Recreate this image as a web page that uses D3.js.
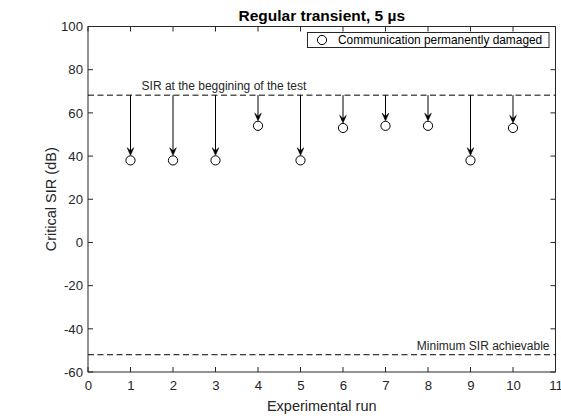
<!DOCTYPE html>
<html><head><meta charset="utf-8">
<script src="https://cdn.jsdelivr.net/npm/d3@7"></script>
<style>body{margin:0;background:#fff}svg{display:block;font-family:"Liberation Sans",Arial,Helvetica,sans-serif}</style>
</head><body>
<svg id="c" width="561" height="416"></svg>
<script>
const runs = [1,2,3,4,5,6,7,8,9,10];
const criticalSIR = [38,38,38,54,38,53,54,54,38,53];
const startSIR = 68.2;
const minSIR = -52;
const xTicks = [0,1,2,3,4,5,6,7,8,9,10,11];
const yTicks = [-60,-40,-20,0,20,40,60,80,100];

const svg = d3.select("#c");
const L=88, R=555.5, T=26.5, B=372;
const x = d3.scaleLinear().domain([0,11]).range([L,R]);
const y = d3.scaleLinear().domain([-60,100]).range([B,T]);
const ink="#262626";
const fmt = d => String(d);

const g = svg.append("g");
g.append("rect").attr("x",L).attr("y",T).attr("width",R-L).attr("height",B-T)
 .attr("fill","none").attr("stroke",ink).attr("stroke-width",1);

const tl=5;
const xa = d3.axisBottom(x).tickValues(xTicks).tickFormat(fmt).tickSize(0).tickPadding(9);
const ya = d3.axisLeft(y).tickValues(yTicks).tickFormat(fmt).tickSize(0).tickPadding(5);
const gx = svg.append("g").attr("transform",`translate(0,${B})`).call(xa);
const gy = svg.append("g").attr("transform",`translate(${L},0)`).call(ya);
[gx,gy].forEach(a=>{a.select(".domain").remove();a.selectAll("text").attr("font-size",13.2).attr("fill",ink).attr("font-family","Liberation Sans, Arial, sans-serif");});
xTicks.forEach(v=>{
  g.append("line").attr("x1",x(v)).attr("x2",x(v)).attr("y1",B).attr("y2",B-tl).attr("stroke",ink);
  g.append("line").attr("x1",x(v)).attr("x2",x(v)).attr("y1",T).attr("y2",T+tl).attr("stroke",ink);
});
yTicks.forEach(v=>{
  g.append("line").attr("x1",L).attr("x2",L+tl).attr("y1",y(v)).attr("y2",y(v)).attr("stroke",ink);
  g.append("line").attr("x1",R).attr("x2",R-tl).attr("y1",y(v)).attr("y2",y(v)).attr("stroke",ink);
});

[startSIR,minSIR].forEach(v=>{
  svg.append("line").attr("x1",L).attr("x2",R).attr("y1",y(v)).attr("y2",y(v))
   .attr("stroke","#000").attr("stroke-width",1).attr("stroke-dasharray","6,3.5");
});
svg.append("text").attr("x",x(1.26)).attr("y",y(startSIR)-5).attr("font-size",12).attr("fill",ink)
 .text("SIR at the beggining of the test");
svg.append("text").attr("x",x(10.86)).attr("y",y(minSIR)-5).attr("font-size",12).attr("fill",ink)
 .attr("text-anchor","end").text("Minimum SIR achievable");

const r=4.6;
const data = runs.map((d,i)=>({run:d,v:criticalSIR[i]}));
data.forEach(d=>{
  const cx=x(d.run), y0=y(startSIR), y1=y(d.v)-r-0.5;
  svg.append("line").attr("x1",cx).attr("x2",cx).attr("y1",y0).attr("y2",y1-3).attr("stroke","#000").attr("stroke-width",1);
  const hl=7.5, hw=3.3;
  svg.append("path").attr("d",`M${cx},${y1} L${cx-hw},${y1-hl} L${cx},${y1-hl+3} L${cx+hw},${y1-hl} Z`)
   .attr("fill","#000").attr("stroke","#000").attr("stroke-width",0.6).attr("stroke-linejoin","miter");
});
svg.selectAll("circle.pt").data(data).join("circle").attr("class","pt")
 .attr("cx",d=>x(d.run)).attr("cy",d=>y(d.v)).attr("r",r)
 .attr("fill","#fff").attr("stroke","#000").attr("stroke-width",1);

svg.append("rect").attr("x",307.5).attr("y",32.5).attr("width",241.5).attr("height",15)
 .attr("fill","#fff").attr("stroke",ink).attr("stroke-width",1);
svg.append("circle").attr("cx",322).attr("cy",40).attr("r",r).attr("fill","#fff").attr("stroke","#000");
svg.append("text").attr("x",338).attr("y",44.3).attr("font-size",11.9).attr("fill","#000")
 .text("Communication permanently damaged");

svg.append("text").attr("x",(L+R)/2).attr("y",20.5).attr("text-anchor","middle")
 .attr("font-size",15.5).attr("font-weight","bold").attr("fill","#000").text("Regular transient, 5 µs");
svg.append("text").attr("x",(L+R)/2).attr("y",410.5).attr("text-anchor","middle")
 .attr("font-size",14.5).attr("fill",ink).text("Experimental run");
svg.append("text").attr("transform",`translate(55.5,${(T+B)/2}) rotate(-90)`).attr("text-anchor","middle")
 .attr("font-size",14.5).attr("fill",ink).text("Critical SIR (dB)");
</script>
</body></html>
